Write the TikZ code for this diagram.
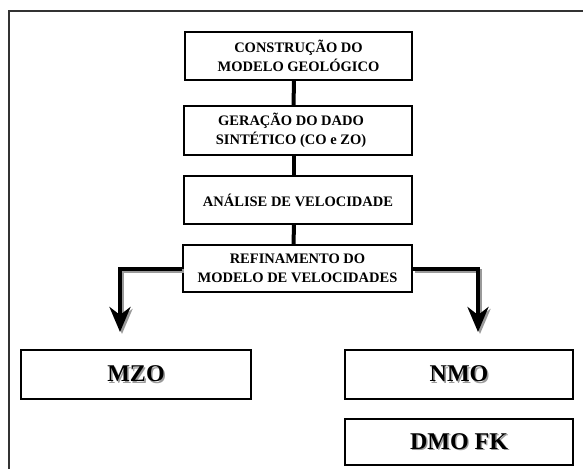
\documentclass[tikz,border=0pt]{standalone}
\usepackage{fontspec}
\setmainfont{Liberation Serif}
\usetikzlibrary{arrows.meta}
\definecolor{framegray}{HTML}{333333}
\definecolor{shade}{HTML}{9A9A9A}
% text with a soft grey drop shadow
\newcommand\shadowed[1]{\makebox[0pt][l]{\hspace{1.5pt}\raisebox{-1.5pt}{\textcolor{shade}{#1}}}#1}
\tikzset{
  stepbox/.style={draw=black, line width=1.2pt, inner sep=0pt, align=center,
    font=\bfseries\fontsize{14.5}{19}\selectfont},
  resultbox/.style={draw=black, line width=1.2pt, inner sep=0pt,
    font=\bfseries\fontsize{24}{28}\selectfont},
  link/.style={line width=4pt},
  flow/.style={line width=4pt, -{Stealth[length=25pt,width=21pt,inset=8pt]}},
  flowshade/.style={flow, color=shade},
}
\begin{document}
\begin{tikzpicture}[x=1pt, y=-1pt]
  \useasboundingbox (0,0) rectangle (583,469);
  % outer frame (only top and left edges fall inside the page)
  \coordinate (frameTR) at (583,11);
  \coordinate (frameTL) at (9,11);
  \coordinate (frameBL) at (9,469);
  \draw[framegray, line width=1.5pt] (frameTR) -- (frameTL) -- (frameBL);

  % processing steps
  \node[stepbox, minimum width=227pt, minimum height=48pt] (b1) at (298.5,56)
    {CONSTRUÇÃO DO\\MODELO GEOLÓGICO};
  \node[stepbox, minimum width=228pt, minimum height=49pt] (b2) at (298,130.5)
    {\hspace*{-14pt}GERAÇÃO DO DADO\\\hspace*{-14pt}SINTÉTICO (CO e ZO)};
  \node[stepbox, minimum width=228pt, minimum height=48pt] (b3) at (298,200)
    {ANÁLISE DE VELOCIDADE};
  \node[stepbox, minimum width=229pt, minimum height=47pt] (b4) at (297.5,268.5)
    {REFINAMENTO DO\\MODELO DE VELOCIDADES};

  % results
  \node[resultbox, minimum width=230pt, minimum height=49pt] (mzo) at (136,374.5)
    {\shadowed{MZO}};
  \node[resultbox, minimum width=228pt, minimum height=49pt] (nmo) at (459,374.5)
    {\shadowed{NMO}};
  \node[resultbox, minimum width=228pt, minimum height=46pt] (dmo) at (459,442)
    {\shadowed{DMO FK}};

  % links between the steps
  \draw[link] ([xshift=-4.5pt]b1.south) -- ([xshift=-4.5pt]b2.north);
  \draw[link] ([xshift=-4pt]b2.south) -- ([xshift=-4pt]b3.north);
  \draw[link] ([xshift=-4pt]b3.south) -- ([xshift=-4pt]b4.north);

  % branching arrows towards the results
  \coordinate (tipL) at (120,332);
  \coordinate (tipR) at (478,332);
  \draw[flowshade] ([shift={(2,2)}]b4.west) -| ([shift={(2,2)}]tipL);
  \draw[flowshade] ([shift={(2,2)}]b4.east) -| ([shift={(2,2)}]tipR);
  \draw[flow] (b4.west) -| (tipL);
  \draw[flow] (b4.east) -| (tipR);
\end{tikzpicture}
\end{document}
